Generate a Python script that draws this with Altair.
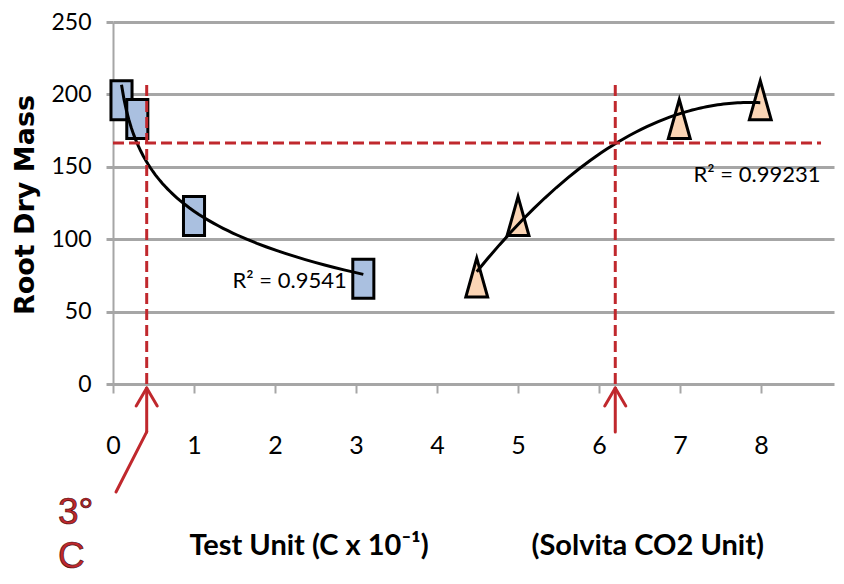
import altair as alt
import pandas as pd

# ---- data ----
sq_x = [0.105, 0.30, 1.0, 3.09]
sq_y = [196, 183, 116, 72.7]
tri_x = [4.49, 5.0, 6.99, 7.99]
tri_y = [73.5, 116, 183, 196]
x_ticks = [0, 1, 2, 3, 4, 5, 6, 7, 8]
y_ticks = [0, 50, 100, 150, 200, 250]

# reference (dashed) lines, in data units
ref_y = 166.4
ref_x1 = 0.416
ref_x2 = 6.2
ref_top = 209
ref_right = 8.74

LABEL_FONT = "Lato, Liberation Sans, sans-serif"
RED = "#c0282d"
GRID = "#a6a6a6"

xs = alt.Scale(domain=[0, 8.9], nice=False, zero=False)
ys = alt.Scale(domain=[0, 250], nice=False)
xa = alt.Axis(values=x_ticks, grid=False, domain=False, ticks=True, tickColor=GRID,
              tickWidth=2, tickSize=9, labelFont=LABEL_FONT, labelFontSize=25,
              labelColor="black", labelPadding=40, labelFlush=False, title=None)
ya = alt.Axis(values=y_ticks, grid=True, gridColor=GRID, gridWidth=3, domain=True,
              domainColor=GRID, domainWidth=2, tickColor=GRID, tickWidth=3, tickSize=7,
              labelFont=LABEL_FONT, labelFontSize=23, labelColor="black", labelPadding=15,
              labelFlush=False, title=None)

def X(f="x"):
    return alt.X(f + ":Q", scale=xs, axis=xa)

def Y(f="y"):
    return alt.Y(f + ":Q", scale=ys, axis=ya)

sq = pd.DataFrame({"x": sq_x, "y": sq_y})
tri = pd.DataFrame({"x": tri_x, "y": tri_y})

RECT = "M-0.54,-1L0.54,-1L0.54,1L-0.54,1Z"
TRI = "M0,-1L0.56,1L-0.56,1Z"

sq_pts = alt.Chart(sq).mark_point(shape=RECT, size=1521, filled=True, fill="#aac0e0",
                                  stroke="black", strokeWidth=3, opacity=1).encode(x=X(), y=Y())
tri_pts = alt.Chart(tri).mark_point(shape=TRI, size=1521, filled=True, fill="#fbd5b5",
                                    stroke="black", strokeWidth=3, opacity=1,
                                    strokeJoin="miter").encode(x=X(), y=Y())

sq_fit = alt.Chart(sq).transform_regression("x", "y", method="log").mark_line(
    color="black", strokeWidth=3).encode(x=X(), y=Y())
tri_fit = alt.Chart(tri).transform_regression("x", "y", method="poly", order=2).mark_line(
    color="black", strokeWidth=3).encode(x=X(), y=Y())

dashed = pd.DataFrame({
    "x": [0, ref_x1, ref_x2],
    "x2": [ref_right, ref_x1, ref_x2],
    "y": [ref_y, 0, 0],
    "y2": [ref_y, ref_top, ref_top],
})
dash_rules = alt.Chart(dashed).mark_rule(color=RED, strokeWidth=3, strokeDash=[11, 5]).encode(
    x=X(), x2="x2:Q", y=Y(), y2="y2:Q")

tip, head, low, end_y, end_x, hw = -2.76, -15.2, -33.1, -74.6, 0.037, 0.13
solid = pd.DataFrame({
    "x": [ref_x1, ref_x1, ref_x1 - hw, ref_x1 + hw, ref_x2, ref_x2 - hw, ref_x2 + hw],
    "y": [tip, low, head, head, tip, head, head],
    "x2": [ref_x1, end_x, ref_x1, ref_x1, ref_x2, ref_x2, ref_x2],
    "y2": [low, end_y, tip, tip, low, tip, tip],
})
solid_rules = alt.Chart(solid).mark_rule(color=RED, strokeWidth=3, strokeCap="round").encode(
    x=X(), x2="x2:Q", y=Y(), y2="y2:Q")

r2 = pd.DataFrame({"x": [2.18, 7.95], "y": [66.3, 139.5], "t": ["R² = 0.9541", "R² = 0.99231"]})
r2_txt = alt.Chart(r2).mark_text(font=LABEL_FONT, fontSize=22, color="black", align="center",
                                 baseline="alphabetic").encode(x=X(), y=Y(), text="t:N")

xt = pd.DataFrame({"x": [2.42, 6.6], "y": [-118.1, -118.1],
                   "t": ["Test Unit (C x 10⁻¹)", "(Solvita CO2 Unit)"]})
xt_txt = alt.Chart(xt).mark_text(font=LABEL_FONT, fontSize=29, fontWeight="bold", color="black",
                                 align="center", baseline="alphabetic").encode(
    x=X(), y=Y(), text="t:N")

yt = pd.DataFrame({"x": [-0.97], "y": [123.6], "t": ["Root Dry Mass"]})
yt_txt = alt.Chart(yt).mark_text(font="DejaVu Sans", fontSize=27, fontWeight="bold",
                                 color="black", align="center", baseline="alphabetic",
                                 angle=270).encode(x=X(), y=Y(), text="t:N")

red = pd.DataFrame({"x": [-0.68, -0.68], "y": [-96.7, -127.1], "t": ["3°", "C"]})
red_txt = alt.Chart(red).mark_text(font="Liberation Sans, Arial, sans-serif", fontSize=37,
                                   color=RED, stroke="#4a0c0c", strokeWidth=0.7,
                                   align="left", baseline="alphabetic").encode(
    x=X(), y=Y(), text="t:N")

chart = alt.layer(
    sq_pts, tri_pts, sq_fit, tri_fit, dash_rules, solid_rules,
    r2_txt, xt_txt, yt_txt, red_txt
).properties(
    width=721, height=362,
    autosize=alt.AutoSizeParams(type="none"),
    padding={"left": 105, "top": 14, "right": 2, "bottom": 192},
    background="white",
).configure_view(stroke=None)

chart.save("out.html", embed_options={"renderer": "svg", "actions": False})
